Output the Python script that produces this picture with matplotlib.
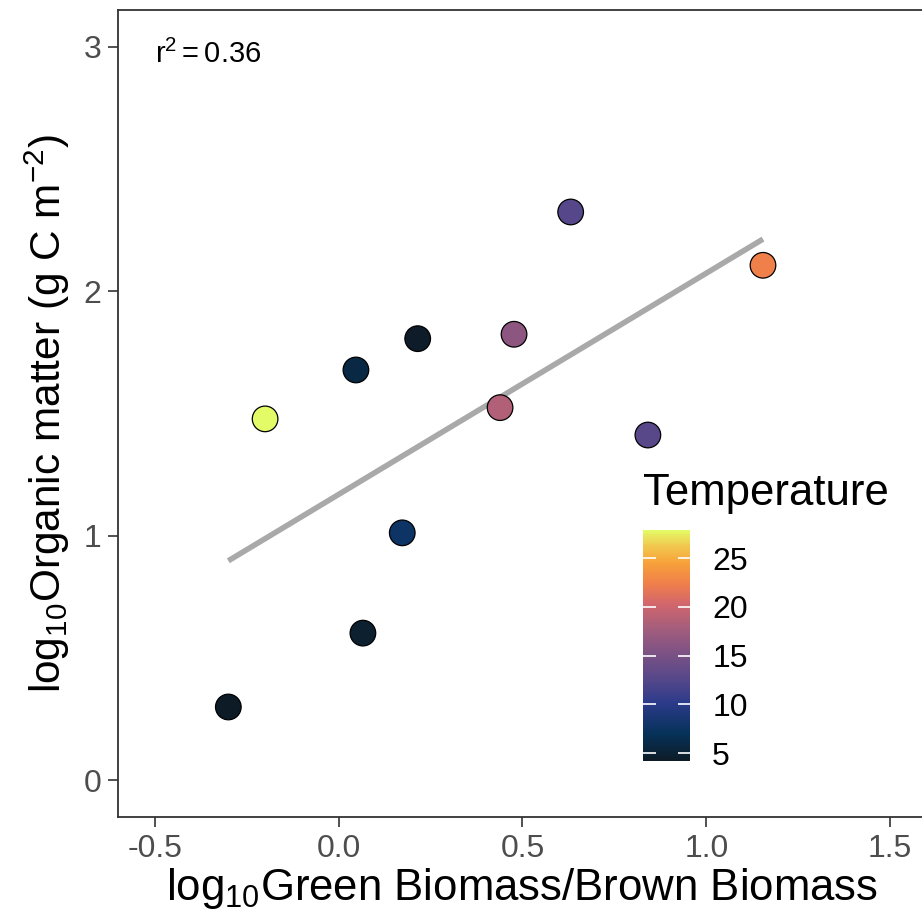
import numpy as np
import matplotlib
matplotlib.use("Agg")
import matplotlib.pyplot as plt
from matplotlib.colors import LinearSegmentedColormap

# log10 green/brown biomass ratio, log10 organic matter and water temperature per site
ratio = [-0.30, -0.20, 0.047, 0.066, 0.173, 0.215, 0.439, 0.477, 0.631, 0.841, 1.154]
organic = [0.30, 1.478, 1.678, 0.602, 1.012, 1.806, 1.524, 1.824, 2.324, 1.412, 2.106]
temperature = [4.2, 27.9, 5.8, 4.8, 7.8, 4.3, 18.5, 16.3, 12.6, 12.8, 22.5]
r2_label = "0.36"
temp_ticks = [5, 10, 15, 20, 25]

plt.rcParams["font.family"] = ["Liberation Sans", "DejaVu Sans"]
plt.rcParams["mathtext.fontset"] = "custom"
plt.rcParams["mathtext.rm"] = "Liberation Sans"
plt.rcParams["mathtext.it"] = "Liberation Sans:italic"

# thermal-style palette: dark navy -> blue -> purple -> pink -> orange -> yellow
thermal = LinearSegmentedColormap.from_list("thermal", [
    (0.00, "#0d1b26"), (0.12, "#06325a"), (0.25, "#2c3a8a"), (0.35, "#54478a"),
    (0.47, "#7d5284"), (0.58, "#a65e7c"), (0.68, "#d2666c"), (0.77, "#f07f4a"),
    (0.86, "#f7a23a"), (0.93, "#f2c64e"), (1.00, "#e3fb66")])
vmin, vmax = 4.2, 27.9

fig = plt.figure(figsize=(9.22, 9.23), dpi=100)
ax = fig.add_axes([0.128, 0.1148, 0.8774, 0.8744])

# least-squares fit over the observed ratio range
slope, intercept = np.polyfit(ratio, organic, 1)
xs = np.array([min(ratio), max(ratio)])
ax.plot(xs, intercept + slope * xs, color="#a9a9a9", lw=4.0, solid_capstyle="butt", zorder=2)

sc = ax.scatter(ratio, organic, c=temperature, cmap=thermal, vmin=vmin, vmax=vmax,
                s=340, edgecolors="black", linewidths=0.9, zorder=3)

ax.set_xlim(-0.6, 1.6)
ax.set_ylim(-0.15, 3.15)
ax.set_xticks([-0.5, 0.0, 0.5, 1.0, 1.5])
ax.set_xticklabels(["-0.5", "0.0", "0.5", "1.0", "1.5"])
ax.set_yticks([0, 1, 2, 3])
ax.tick_params(length=7, width=1.2, color="#333333", labelcolor="#4d4d4d",
               labelsize=23, pad=5)
for sp in ax.spines.values():
    sp.set_linewidth(1.3)
    sp.set_color("#333333")

ax.set_xlabel(r"$\mathrm{log_{10}Green\ Biomass/Brown\ Biomass}$", fontsize=31.5, labelpad=2)
ax.set_ylabel(r"$\mathrm{log_{10}Organic\ matter\ (g\ C\ m^{-2})}$", fontsize=30.5, labelpad=8)

ax.text(-0.5, 2.97, r"$\mathrm{r^2 = }$" + r2_label, fontsize=21, ha="left", va="center")

# colour bar
cax = fig.add_axes([0.6974, 0.1755, 0.051, 0.2503])
cb = fig.colorbar(sc, cax=cax, ticks=temp_ticks)
cb.outline.set_visible(False)
cax.tick_params(axis="y", which="both", direction="in", length=9, width=1.2,
                color="white", left=True, right=True, labelsize=23, pad=16)
fig.text(0.6974, 0.4655, "Temperature", fontsize=31.5, ha="left", va="center")

fig.savefig("out.png", dpi=100)
